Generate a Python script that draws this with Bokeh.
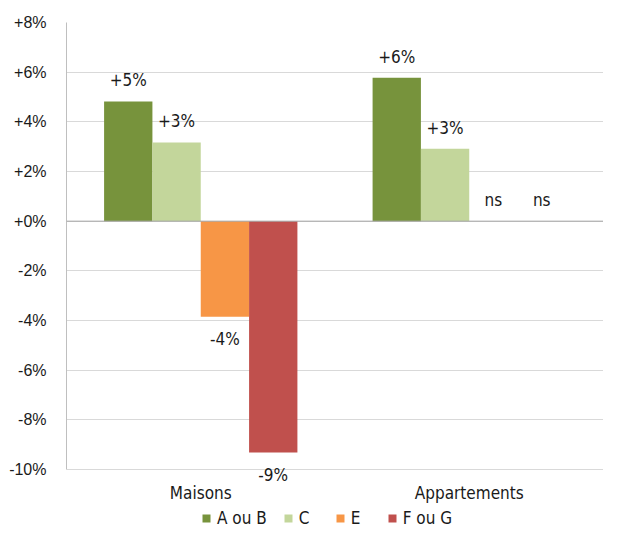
from bokeh.plotting import figure
from bokeh.models import (ColumnDataSource, FactorRange, Range1d, FixedTicker,
                          CustomJSTickFormatter, Span, Legend, LegendItem, LabelSet)
from bokeh.transform import dodge
from bokeh.core.properties import value
from bokeh.embed import file_html
from bokeh.resources import INLINE

categories = ["Maisons", "Appartements"]
series = ["A ou B", "C", "E", "F ou G"]
colors = ["#77933c", "#c3d69b", "#f79646", "#c0504d"]
vals_ab = [4.82, 5.78]
vals_c = [3.17, 2.92]
vals_e = [-3.85, 0.0]
vals_fg = [-9.32, 0.0]
labels_ab = ["+5%", "+6%"]
labels_c = ["+3%", "+3%"]
labels_e = ["-4%", "ns"]
labels_fg = ["-9%", "ns"]
y_ticks = [-10, -8, -6, -4, -2, 0, 2, 4, 6, 8]

COND = "DejaVu Sans Condensed"
TXT = "#1a1a1a"

W, H = 603, 529
TOP, LEFT = 22, 66
AXIS_BOTTOM_PX = 469          # pixel row of the lowest tick (-10 %)
px_per_unit = (AXIS_BOTTOM_PX - TOP) / (y_ticks[-1] - y_ticks[0])
y_low = y_ticks[0] - (H - AXIS_BOTTOM_PX) / px_per_unit   # room for labels + legend

p = figure(x_range=FactorRange(*categories), y_range=Range1d(y_low, y_ticks[-1]),
           width=W, height=H, output_backend="svg", toolbar_location=None,
           min_border_left=LEFT, min_border_top=TOP, min_border_right=0,
           min_border_bottom=0)
p.outline_line_color = None
p.background_fill_color = "white"
p.xaxis.visible = False

series_vals = [vals_ab, vals_c, vals_e, vals_fg]
series_labels = [labels_ab, labels_c, labels_e, labels_fg]
offsets = [-0.27, -0.09, 0.09, 0.27]
bw = 0.18

items = []
for name, col, vals, labs, off in zip(series, colors, series_vals, series_labels, offsets):
    src = ColumnDataSource(dict(cat=categories, v=vals, lab=labs,
                                yoff=[21 if (v > 0 or l == "ns") else -22 for v, l in zip(vals, labs)]))
    r = p.vbar(x=dodge("cat", off, range=p.x_range), top="v", bottom=0, width=bw,
               fill_color=col, line_color=None, source=src)
    p.add_layout(LabelSet(x=dodge("cat", off, range=p.x_range), y="v", text="lab",
                          y_offset="yoff", text_align="center", text_baseline="middle",
                          text_font=value(COND), text_font_size="17px", text_color=TXT,
                          source=src))
    items.append(LegendItem(label=name, renderers=[r]))

# category labels under the lowest gridline
cat_src = ColumnDataSource(dict(cat=categories))
p.add_layout(LabelSet(x="cat", y=y_ticks[0], text="cat", y_offset=-23,
                      text_align="center", text_baseline="middle",
                      text_font=value(COND), text_font_size="17px", text_color=TXT,
                      source=cat_src))

# y axis
p.yaxis.ticker = FixedTicker(ticks=y_ticks)
p.yaxis.bounds = (y_ticks[0], y_ticks[-1])
p.yaxis.formatter = CustomJSTickFormatter(code="return (tick >= 0 ? '+' : '') + tick + '%';")
p.yaxis.major_tick_line_color = None
p.yaxis.minor_tick_line_color = None
p.yaxis.major_tick_in = 0
p.yaxis.major_tick_out = 0
p.yaxis.axis_line_color = "#bfbfbf"
p.yaxis.major_label_text_font = "Liberation Sans"
p.yaxis.major_label_text_font_size = "16px"
p.yaxis.major_label_text_color = TXT
p.yaxis.major_label_standoff = 20

p.ygrid.ticker = FixedTicker(ticks=y_ticks)
p.ygrid.grid_line_color = "#d9d9d9"
p.xgrid.grid_line_color = None

p.add_layout(Span(location=0, dimension="width", line_color="#a6a6a6", line_width=1))

legend = Legend(items=items, orientation="horizontal", location=(135, 1),
                label_text_font=COND, label_text_font_size="17px",
                label_text_color=TXT, glyph_width=10, glyph_height=10,
                spacing=16, label_standoff=6, border_line_color=None,
                background_fill_alpha=0, margin=0, padding=1)
p.add_layout(legend)

open("out.html", "w").write(file_html(p, INLINE))
